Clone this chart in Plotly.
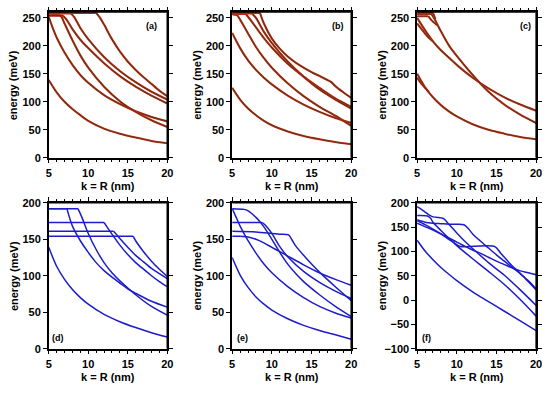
import plotly.graph_objects as go

# ---------------- data (k in nm, energy in meV) ----------------
a_k = [[5,6,7,8,9,10,12,14,16,18,20],
       [5,5.5,6,7,8,9,10,12,14,16,18,20],
       [5,6.2,6.6,7,8,9,10,12,14,16,18,20],
       [5,6.8,7.2,8,9,10,12,14,16,18,20],
       [5,7.8,8.2,9,10,12,14,16,18,20],
       [5,11,11.5,12,13,14,15,16,17,18,19,20]]
a_e = [[139,117,100,87,76,66,52,43,36,30,26],
       [252,232,215,188,166,148,134,112,96,83,73,65],
       [256,256,252,240,210,183,161,127,101,82,67,55],
       [254,254,248,230,211,196,169,146,127,111,97],
       [258,258,252,232,212,180,155,135,118,104],
       [259,259,250,238,212,190,172,157,144,132,120,110]]

b_k = [[5,6,7,8,9,10,12,14,16,18,20],
       [5,6,7,8,9,10,12,14,16,18,20],
       [5,5.6,6,7,8,9,10,12,14,16,18,20],
       [5,6.7,7,8,9,10,12,14,16,18,20],
       [5,7.5,8,9,10,12,14,16,18,20],
       [5,8.5,9,10,11,12,13,14,15,16,17,17.5,18,19,20]]
b_e = [[125,104,88,76,66,58,47,39,33,28,24],
       [223,196,174,157,143,131,111,95,82,71,62],
       [256,255,247,222,198,178,161,133,110,91,75,57],
       [257,257,252,233,214,197,168,145,125,106,91],
       [258,258,250,225,205,172,145,122,104,88],
       [259,259,240,213,195,181,170,161,153,146,139,135,128,117,107]]

c_k = [[5,6,7,8,9,10,12,14,16,18,20],
       [5,5.5,6,6.5],
       [5,6,7,8,9,10,12,14,16,18,20],
       [5,5.5,6,6.5,7],
       [5,6.8,7.2,8,9,10,12,14,16,18,20],
       [5,6.4,6.8,7.5],
       [5,7.0,7.3]]
c_e = [[150,126,108,94,83,74,60,50,43,37,33],
       [143,133,125,117],
       [250,228,208,192,179,166,143,124,108,95,84],
       [240,231,222,214,208],
       [257,257,248,226,201,182,148,118,95,77,62],
       [253,253,246,237],
       [259,259,248]]

d_k = [[5,6,7,8,9,10,12,14,16,18,20],
       [5,7.3,8,9,10,11,12,13,14,15,16,18,20],
       [5,8.7,9.2,10,11,12,13,14,16,18,20],
       [5,12,12.5,13,14,15,16,17,18,19,20],
       [5,13.2,13.7,14,15,16,17,18,19,20],
       [5,15.7,16,17,18,19,20]]
d_e = [[139,113,95,81,70,61,47,37,29,22,16],
       [192,192,168,148,132,118,107,98,90,82,76,65,57],
       [192,192,180,158,136,118,104,93,74,58,46],
       [173,173,165,157,142,129,118,109,100,92,85],
       [161,161,155,151,139,128,119,110,103,96],
       [154,154,148,133,120,109,99]]

e_k = [[5,6,7,8,9,10,12,14,16,18,20],
       [5,5.5,6,7,8,9,10,12,14,16,18,20],
       [5,6.5,7,7.5,8,8.5,9,10,11,12,13,14,16,18,20],
       [5,8.8,9.3,10,11,12,14,16,18,20],
       [5,8,10,11,12.1,12.6,13,14,15,16,18,20],
       [5,6,7,8,9,10,11,12,14,16,18,20]]
e_e = [[125,101,84,71,61,53,41,32,25,19,13],
       [192,180,168,148,131,116,104,85,70,58,49,42],
       [192,191,189,185,180,174,167,150,132,116,103,92,74,58,44],
       [173,173,168,158,140,126,106,91,79,69],
       [161,160,158,157,156,148,141,128,116,105,85,66],
       [154,154,153,150,145,139,133,127,115,104,95,87]]

f_k = [[5,6,7,8,9,10,12,14,16,18,20],
       [5,5.5,6,6.5,7,8,8.3,9,10,11,12,14,16,18,20],
       [5,6.3,6.7,7,8,9,10,12,14,16,18,20],
       [5,6,7,8,9,10,10.9,11.5,12,13,14,15,16,17,18,19,20],
       [5,6,7,8,9,10,11,12,13,14,15,16,17,18,19,20],
       [5,6,7,8,9,10,10.5,14.8,15.5,16,17,18,19,20]]
f_e = [[123,101,83,67,53,40,17,-3,-23,-43,-63],
       [192,187,181,175,171,169,168,156,138,121,106,77,51,21,-11],
       [174,173,168,160,143,127,112,85,59,32,1,-33],
       [165,160,158,157,156,156,155,146,136,121,107,93,80,67,54,40,23],
       [158,151,144,136,128,119,111,103,96,88,80,73,66,60,56,52],
       [163,155,146,136,125,114,110,110,97,88,70,55,38,21]]

panel_labels = ["(a)", "(b)", "(c)", "(d)", "(e)", "(f)"]
x_range = [5, 20]
x_ticks = [5, 10, 15, 20]
y_ranges = [[0, 260], [0, 260], [0, 260], [0, 200], [0, 200], [-100, 200]]
y_ticks = [[0, 50, 100, 150, 200, 250]] * 3 + [[0, 50, 100, 150, 200]] * 2 + [[-100, -50, 0, 50, 100, 150, 200]]

# ---------------- layout geometry ----------------
W, H = 550, 393
xpix = [(46.5, 167), (233, 354), (421, 542)]
ypix = [(6.5, 156.5), (203, 353.5)]

panels = [(a_k, a_e), (b_k, b_e), (c_k, c_e), (d_k, d_e), (e_k, e_e), (f_k, f_e)]

fig = go.Figure()
FONT = "Liberation Sans, Arial, sans-serif"
tickfont = dict(family=FONT, size=11, color="black", weight="bold")

def split_flat(ks, es):
    j = 0
    while j + 1 < len(es) and es[j + 1] == es[0]:
        j += 1
    return j

for i, (ks_list, es_list) in enumerate(panels):
    n = i + 1
    top = i < 3
    xa = "x" if n == 1 else f"x{n}"
    ya = "y" if n == 1 else f"y{n}"
    yr = y_ranges[i]
    for ks, es in zip(ks_list, es_list):
        j = split_flat(ks, es)
        segs = []
        if j > 0:
            segs.append((ks[:j + 1], es[:j + 1], "linear"))
            segs.append((ks[j:], es[j:], "spline"))
        else:
            segs.append((ks, es, "spline"))
        for sx, sy, shp in segs:
            if len(sx) < 2:
                continue
            if top:
                fig.add_trace(go.Scatter(x=sx, y=sy, mode="lines", xaxis=xa, yaxis=ya,
                                         line=dict(color="#d8281a", width=2.1, shape=shp, smoothing=0.8),
                                         showlegend=False, hoverinfo="skip"))
                fig.add_trace(go.Scatter(x=sx, y=sy, mode="lines", xaxis=xa, yaxis=ya,
                                         line=dict(color="#5e3812", width=1.1, shape=shp, smoothing=0.8),
                                         showlegend=False, hoverinfo="skip"))
            else:
                fig.add_trace(go.Scatter(x=sx, y=sy, mode="lines", xaxis=xa, yaxis=ya,
                                         line=dict(color="#1c1ccc", width=1.5, shape=shp, smoothing=0.8),
                                         showlegend=False, hoverinfo="skip"))
    # top / right edges of the plot frame, along the axis limits
    fig.add_trace(go.Scatter(x=[x_range[0], x_range[1], x_range[1]], y=[yr[1], yr[1], yr[0]],
                             mode="lines", xaxis=xa, yaxis=ya, cliponaxis=False,
                             line=dict(color="black", width=1.5),
                             showlegend=False, hoverinfo="skip"))

    col = i % 3
    row = i // 3
    x0, x1 = xpix[col]
    y0, y1 = ypix[row]
    xdom = [x0 / W, x1 / W]
    ydom = [1 - y1 / H, 1 - y0 / H]
    fig.layout[f"xaxis{n}"] = dict(domain=xdom, range=x_range, anchor=ya, showgrid=False, zeroline=False,
                                   showline=True, linecolor="black", linewidth=1.5, mirror="ticks",
                                   fixedrange=True, tickmode="array", tickvals=x_ticks,
                                   ticks="outside", ticklen=4, tickwidth=1.3, tickcolor="black",
                                   tickfont=tickfont, ticklabelstandoff=0,
                                   minor=dict(dtick=1, ticks="outside", ticklen=2.5, tickwidth=1, tickcolor="black"))
    fig.layout[f"yaxis{n}"] = dict(domain=ydom, range=yr, anchor=xa, showgrid=False, zeroline=False,
                                   showline=True, linecolor="black", linewidth=1.5, mirror="ticks",
                                   fixedrange=True, tickmode="array", tickvals=y_ticks[i],
                                   ticks="outside", ticklen=4, tickwidth=1.3, tickcolor="black",
                                   tickfont=tickfont)

    # axis titles
    fig.add_annotation(text="k = R (nm)", xref="paper", yref="paper",
                       x=(x0 + x1) / 2 / W, y=1 - (y1 + 29.5) / H, showarrow=False,
                       font=dict(family=FONT, size=11, color="black", weight="bold"),
                       xanchor="center", yanchor="middle")
    fig.add_annotation(text="energy (meV)", xref="paper", yref="paper",
                       x=(x0 - 36) / W, y=1 - (y0 + y1) / 2 / H, showarrow=False, textangle=-90,
                       font=dict(family=FONT, size=11, color="black", weight="bold"),
                       xanchor="center", yanchor="middle")
    # panel label
    if top:
        lx, ly = x0 + {0: 104.5, 1: 108, 2: 110}[col], y0 + 14
    else:
        lx, ly = x0 + 9 + (1 if col else 0), y1 - 11
    fig.add_annotation(text=panel_labels[i], xref="paper", yref="paper",
                       x=lx / W, y=1 - ly / H, showarrow=False,
                       font=dict(family=FONT, size=9, color="black", weight="bold"),
                       xanchor="center", yanchor="middle")

fig.update_layout(width=W, height=H, margin=dict(l=0, r=0, t=0, b=0),
                  paper_bgcolor="white", plot_bgcolor="white", showlegend=False)

fig.write_html("out.html", config={"displayModeBar": False},
               post_script="document.body.style.margin='0px';")
